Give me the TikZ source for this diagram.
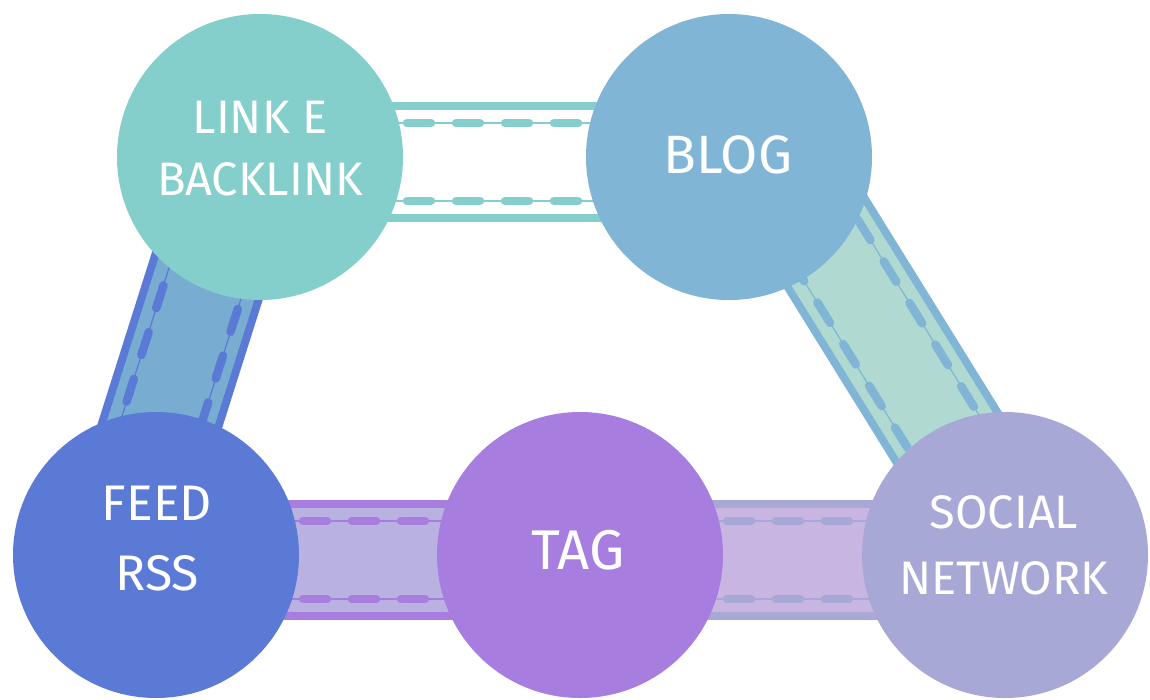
\documentclass[tikz,border=0pt]{standalone}
\usepackage{fontspec}
\setmainfont{Fira Sans}
\usetikzlibrary{calc}
\definecolor{cLink}{HTML}{84CFCB}
\definecolor{cBlog}{HTML}{80B5D6}
\definecolor{cFeed}{HTML}{5A7AD6}
\definecolor{cTag}{HTML}{A77DE0}
\definecolor{cSocial}{HTML}{A7A8D6}
\definecolor{fLF}{HTML}{78ACD0}
\definecolor{fBS}{HTML}{B0D9D1}
\definecolor{fFT}{HTML}{B9B2E1}
\definecolor{fTS}{HTML}{C9B5E2}
\newcommand{\filmband}[5]{%
  \draw[line width=120pt,#3] (#1) -- (#2);
  \draw[line width=104pt,#4] (#1) -- (#2);
  \draw[thinrail,#5] ($(#1)!39pt!90:(#2)$) -- ($(#2)!39pt!-90:(#1)$);
  \draw[thinrail,#5] ($(#1)!39pt!-90:(#2)$) -- ($(#2)!39pt!90:(#1)$);
  \draw[dashrail,#5] ($(#1)!39pt!90:(#2)$) -- ($(#2)!39pt!-90:(#1)$);
  \draw[dashrail,#5] ($(#1)!39pt!-90:(#2)$) -- ($(#2)!39pt!90:(#1)$);
}
\begin{document}
\begin{tikzpicture}[x=1pt,y=-1pt,
  bubble/.style={circle,minimum size=286pt,inner sep=0pt},
  lbl/.style={text=white,font=\fontsize{47}{62}\selectfont,align=center},
  thinrail/.style={line width=1.2pt},
  dashrail/.style={line width=8.5pt,line cap=round,dash pattern=on 24pt off 25pt}]
\useasboundingbox (0,0) rectangle (1150,699);
\fill[white] (0,0) rectangle (1150,699);
% band end points
\coordinate (lbA) at (260,162);
\coordinate (lbB) at (729,162);
\coordinate (lfA) at (245,157);
\coordinate (lfB) at (119,555);
\coordinate (bsA) at (773,157);
\coordinate (bsB) at (1020,555);
\coordinate (ftA) at (156,560);
\coordinate (ftB) at (580,560);
\coordinate (tsA) at (580,560);
\coordinate (tsB) at (1005,560);
% bands
\filmband{lbA}{lbB}{cLink}{white}{cLink}
\filmband{lfA}{lfB}{cFeed}{fLF}{cFeed}
\filmband{bsA}{bsB}{cBlog}{fBS}{cBlog}
\filmband{ftA}{ftB}{cTag}{fFT}{cTag}
\filmband{tsA}{tsB}{cSocial}{fTS}{cSocial}
% circles
\node[bubble,fill=cLink] (link) at (260,157) {};
\node[bubble,fill=cBlog] (blog) at (729,157) {};
\node[bubble,fill=cFeed] (feed) at (156,555) {};
\node[bubble,fill=cTag] (tag) at (580,555) {};
\node[bubble,fill=cSocial] (social) at (1005,555) {};
% labels
\node[lbl] (tlink) at (260,149) {LINK E\\BACKLINK};
\node[lbl,font=\fontsize{54}{62}\selectfont] (tblog) at (728,155) {BLOG};
\node[lbl,font=\fontsize{50}{70}\selectfont] (tfeed) at (157,539) {FEED\\RSS};
\node[lbl,font=\fontsize{56}{62}\selectfont] (ttag) at (578,550) {TAG};
\node[lbl,font=\fontsize{47}{66}\selectfont] (tsocial) at (1004,545) {SOCIAL\\NETWORK};
\end{tikzpicture}
\end{document}
